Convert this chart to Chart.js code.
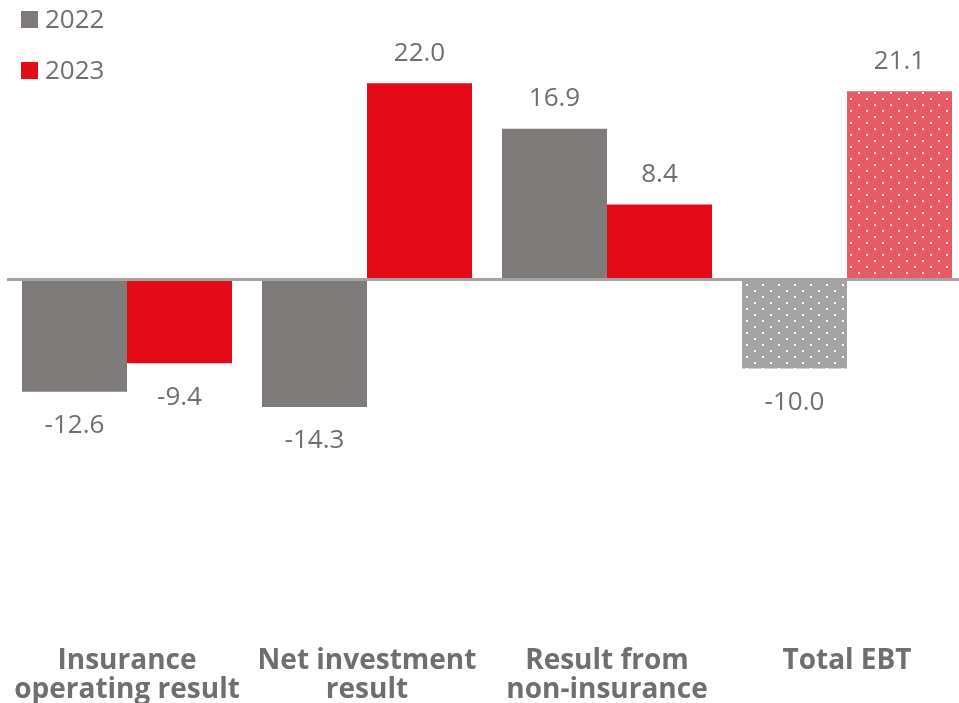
<!DOCTYPE html>
<html>
<head>
<meta charset="utf-8">
<script src="https://cdn.jsdelivr.net/npm/chart.js"></script>
<style>
    html, body { margin: 0; padding: 0; background: #fff; overflow: hidden; }
    #wrap { position: relative; width: 959px; height: 703px; overflow: hidden; }
    #chart { position: absolute; left: 0; top: 0; }
    .legend { position: absolute; left: 21px; font-family: "Open Sans", sans-serif; font-size: 26px; color: #707070; line-height: 1; }
    .legend span { display: inline-block; width: 17px; height: 17px; margin-right: 7px; vertical-align: 0px; }
</style>
</head>
<body>
<div id="wrap">
    <canvas id="chart" width="970" height="703"></canvas>
    <div class="legend" style="top: 5px;"><span style="background:#7f7b7a"></span>2022</div>
    <div class="legend" style="top: 56px;"><span style="background:#e30b18"></span>2023</div>
</div>
<script>
// 데이터
const categories = [
    ['Insurance', 'operating result'],
    ['Net investment', 'result'],
    ['Result from', 'non-insurance'],
    ['Total EBT']
];
const values2022 = [-12.6, -14.3, 16.9, -10.0];
const values2023 = [-9.4, 22.0, 8.4, 21.1];

// 점 패턴 (Total EBT 막대)
function dotPattern(base) {
    const c = document.createElement('canvas');
    c.width = 16;
    c.height = 12;
    const g = c.getContext('2d');
    g.fillStyle = base;
    g.fillRect(0, 0, 16, 12);
    g.fillStyle = '#ffffff';
    g.fillRect(2, 2, 2, 2);
    g.fillRect(10, 8, 2, 2);
    return g.createPattern(c, 'repeat');
}

const ctx = document.getElementById('chart').getContext('2d');
const grayDots = dotPattern('#a3a3a3');
const redDots = dotPattern('#ea5a64');

// 막대 값 라벨
const valueLabels = {
    id: 'valueLabels',
    afterDatasetsDraw(chart) {
        const c = chart.ctx;
        c.save();
        c.font = '26px "Open Sans"';
        c.fillStyle = '#6f6f6f';
        c.textAlign = 'center';
        c.textBaseline = 'middle';
        chart.data.datasets.forEach((ds, i) => {
            chart.getDatasetMeta(i).data.forEach((bar, j) => {
                const v = ds.data[j];
                const y = v >= 0 ? bar.y - 30 : bar.y + 34;
                c.fillText(v.toFixed(1), bar.x, y);
            });
        });
        c.restore();
    }
};

new Chart(ctx, {
    type: 'bar',
    data: {
        labels: categories,
        datasets: [
            {
                label: '2022',
                data: values2022,
                backgroundColor: ['#7f7b7a', '#7f7b7a', '#7f7b7a', grayDots],
                barPercentage: 1,
                categoryPercentage: 0.875
            },
            {
                label: '2023',
                data: values2023,
                backgroundColor: ['#e30b18', '#e30b18', '#e30b18', redDots],
                barPercentage: 1,
                categoryPercentage: 0.875
            }
        ]
    },
    options: {
        responsive: false,
        animation: false,
        layout: { padding: { left: 7, right: 3, top: 12, bottom: -5 } },
        plugins: {
            legend: { display: false },
            tooltip: { enabled: false }
        },
        scales: {
            x: {
                grid: { display: false },
                border: { display: false },
                ticks: {
                    color: '#6f6f6f',
                    font: { family: 'Open Sans', size: 28, weight: 'bold', lineHeight: '29px' },
                    padding: 3,
                    maxRotation: 0,
                    autoSkip: false
                }
            },
            y: {
                min: -40,
                max: 30,
                border: { display: false },
                ticks: { display: false },
                grid: {
                    drawTicks: false,
                    color: c => c.tick.value === 0 ? '#a3a3a3' : 'rgba(0,0,0,0)',
                    lineWidth: c => c.tick.value === 0 ? 3 : 0
                }
            }
        }
    },
    plugins: [valueLabels]
});
</script>
</body>
</html>
